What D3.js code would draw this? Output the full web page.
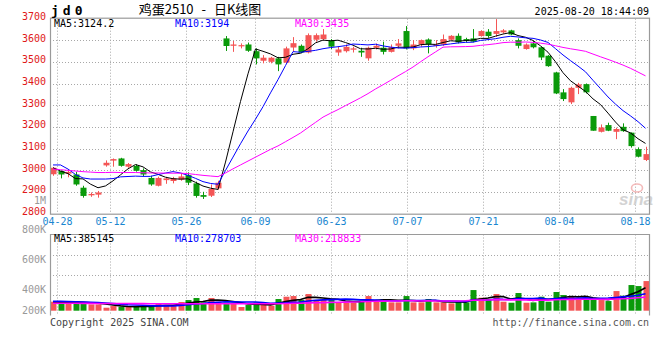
<!DOCTYPE html>
<html><head><meta charset="utf-8">
<script src="https://cdn.jsdelivr.net/npm/d3@7"></script>
<style>body{margin:0;background:#fff}svg{display:block}</style>
</head><body><svg id="c" width="660" height="360"></svg>
<script>
const dates = ["04-25","04-28","04-29","04-30","05-06","05-07","05-08","05-09","05-12","05-13","05-14","05-15","05-16","05-19","05-20","05-21","05-22","05-23","05-26","05-27","05-28","05-29","05-30","06-03","06-04","06-05","06-06","06-09","06-10","06-11","06-12","06-13","06-16","06-17","06-18","06-19","06-20","06-23","06-24","06-25","06-26","06-27","06-30","07-01","07-02","07-03","07-04","07-07","07-08","07-09","07-10","07-11","07-14","07-15","07-16","07-17","07-18","07-21","07-22","07-23","07-24","07-25","07-28","07-29","07-30","07-31","08-01","08-04","08-05","08-06","08-07","08-08","08-11","08-12","08-13","08-14","08-15","08-18","08-19","08-20"];
const openP = [2982,2997,2985,2981,2920,2885,2888,3023,3045,3055,3017,3021,3001,2965,2929,2955,2951,2957,2978,2940,2886,2883,2917,3609,3575,3575,3581,3550,3506,3501,3517,3497,3567,3575,3544,3603,3606,3600,3544,3550,3557,3552,3517,3566,3566,3547,3575,3643,3563,3581,3604,3574,3581,3603,3621,3606,3609,3620,3640,3630,3637,3646,3601,3560,3586,3568,3529,3452,3360,3314,3381,3398,3251,3178,3209,3178,3201,3174,3098,3048];
const highP = [3015,3000,3005,2993,2929,2898,2905,3046,3055,3058,3034,3028,3009,2975,2971,2970,2970,2985,2991,2948,2901,2935,2952,3620,3597,3586,3590,3563,3532,3524,3524,3571,3615,3581,3632,3632,3652,3606,3571,3581,3571,3566,3571,3586,3594,3581,3606,3666,3601,3604,3609,3601,3627,3624,3632,3612,3652,3647,3652,3698,3652,3649,3609,3586,3597,3571,3532,3455,3375,3386,3404,3401,3251,3212,3220,3197,3217,3175,3106,3109];
const lowP = [2975,2963,2968,2929,2874,2878,2874,3017,3017,3017,3012,2994,2972,2929,2926,2938,2940,2952,2932,2874,2868,2877,2911,3551,3547,3563,3547,3489,3494,3494,3458,3494,3550,3540,3540,3594,3601,3560,3529,3544,3544,3524,3506,3558,3535,3544,3563,3558,3555,3571,3540,3566,3575,3600,3586,3591,3591,3617,3612,3617,3632,3624,3563,3557,3563,3509,3478,3352,3320,3306,3352,3355,3183,3175,3181,3144,3178,3105,3060,3043];
const closeP = [3012,2981,2993,2935,2882,2891,2898,3035,3052,3021,3029,2998,2981,2935,2965,2963,2963,2972,2943,2882,2878,2914,2943,3574,3581,3578,3552,3517,3520,3520,3489,3563,3587,3544,3624,3624,3627,3571,3558,3570,3563,3544,3566,3575,3547,3569,3586,3563,3581,3601,3581,3581,3606,3621,3591,3597,3594,3643,3620,3643,3646,3627,3575,3581,3568,3521,3481,3355,3329,3381,3397,3360,3183,3198,3183,3191,3181,3112,3063,3075];
const volume = [151000,123000,123000,162000,140000,106000,106000,50000,78000,62000,62000,78000,78000,67000,129000,95000,95000,146000,179000,213000,140000,213000,151000,134000,123000,62000,95000,140000,106000,84000,196000,235000,246000,179000,280000,179000,179000,179000,140000,140000,140000,162000,246000,162000,196000,140000,140000,246000,140000,140000,196000,140000,140000,123000,162000,140000,347000,218000,196000,280000,151000,134000,297000,134000,140000,235000,151000,314000,263000,235000,196000,196000,196000,179000,162000,330000,252000,431000,414000,498000];
// moving-average values at the start of the window (before enough history exists)
const ma5Head = [3012,2997,2985,2962];
const ma10Head = [3025,3025,3006,2981,2965,2960,2960,2960,2962];
const ma30Head = [3006,3003,3000,2997,2994,2992,2990,2990,2991,2990,2990,2990,2989,2988,2988,2987,2987,2987,2985,2981,2977,2974,2971,2988,3007,3025,3043,3061,3079];
const vma5Head = [145000,142000,140000,141000];
const vma10Head = [160000,158000,155000,150000,145000,140000,135000,128000,120000];
const vma30Head = [125000,125000,124000,124000,123000,123000,122000,122000,121000,120000,120000,119000,119000,118000,118000,118000,117000,117000,117000,117000,116000,116000,116000,116000,116000,116000,116000,116000,116000];
const priceTicks = [2800,2900,3000,3100,3200,3300,3400,3500,3600,3700];
const volTicks = [200000,400000,600000,800000,1000000];
const dateTicks = ["04-28","05-12","05-26","06-09","06-23","07-07","07-21","08-04","08-18"];
const priceLegend = [["MA5",3124.2],["MA10",3194],["MA30",3435]];
const volLegend = [["MA5",385145],["MA10",278703],["MA30",218833]];
const title = "鸡蛋2510 - 日K线图";
const symbol = "jd0";
const stamp = "2025-08-20 18:44:09";

const RED="#f45656", GREEN="#0a9a0a", GRID="#a8a8a8", BORDER="#9a9a9a";
const MACOL=["#000000","#0000ff","#ff00ff"];
const MONO="'DejaVu Sans Mono', monospace";

const svg = d3.select("#c");
svg.append("rect").attr("width",660).attr("height",360).attr("fill","#fff");

const L=50, R=649, PT=18.7, PB=213.7, VT=234.5, VB=315.5;
const x = d3.scalePoint().domain(dates).range([53,645.5]);
const gridX = d3.scaleLinear().domain([1,77]).range([57.3,634.5]);
const y = d3.scaleLinear().domain([2800,3700]).range([PB,PT]);
const yv = d3.scaleLinear().domain([0,800000]).range([310.7,263.1]);
const yvLabel = d3.scaleLinear().domain(volTicks).range([314.3,293.3,262.7,233.3,203.7]);
const vGrid = d3.scaleLinear().domain([0,4]).range([VB,VT]);

function ma(arr, n, head){
  return arr.map((v,i)=> i<head.length ? head[i] : d3.mean(arr.slice(i-n+1,i+1)));
}
const idx = d3.range(dates.length);

// grid
const g = svg.append("g");
priceTicks.filter(t=>t>2800 && t<3700).forEach(t=>{
  g.append("line").attr("x1",L).attr("x2",R).attr("y1",Math.round(y(t))+0.5).attr("y2",Math.round(y(t))+0.5)
   .attr("stroke",GRID).attr("stroke-dasharray","1,2");
});
[1,2,3].forEach(k=>{
  g.append("line").attr("x1",L).attr("x2",R).attr("y1",Math.round(vGrid(k))+0.5).attr("y2",Math.round(vGrid(k))+0.5)
   .attr("stroke",GRID).attr("stroke-dasharray","1,2");
});
dateTicks.forEach(d=>{
  const gx = Math.round(gridX(dates.indexOf(d)))+0.5;
  g.append("line").attr("x1",gx).attr("x2",gx).attr("y1",PT).attr("y2",PB).attr("stroke",GRID).attr("stroke-dasharray","1,2");
  g.append("line").attr("x1",gx).attr("x2",gx).attr("y1",VT).attr("y2",VB).attr("stroke",GRID).attr("stroke-dasharray","1,2");
  svg.append("text").attr("x",gx).attr("y",225.3).attr("text-anchor","middle")
    .attr("font-family",MONO).attr("font-size",10).attr("fill","#1a86d0").text(d);
});

// clip paths
const defs = svg.append("defs");
defs.append("clipPath").attr("id","cp").append("rect").attr("x",L).attr("y",PT).attr("width",R-L).attr("height",PB-PT);
defs.append("clipPath").attr("id","cv").append("rect").attr("x",L).attr("y",VT).attr("width",R-L).attr("height",VB-VT);

// candles
const cg = svg.append("g").attr("clip-path","url(#cp)");
idx.forEach(i=>{
  const up = closeP[i] >= openP[i];
  const col = up ? RED : GREEN;
  const cx = Math.round(x(dates[i]));
  cg.append("line").attr("x1",cx+0.5).attr("x2",cx+0.5).attr("y1",y(highP[i])).attr("y2",y(lowP[i]))
    .attr("stroke",col).attr("stroke-width",1);
  const top = y(Math.max(openP[i],closeP[i])), bot = y(Math.min(openP[i],closeP[i]));
  cg.append("rect").attr("x",cx-2.5).attr("width",6).attr("y",top).attr("height",Math.max(1.2,bot-top)).attr("fill",col);
});

// watermark
const wm = svg.append("g").attr("opacity",0.9);
wm.append("ellipse").attr("cx",637).attr("cy",188).attr("rx",5.5).attr("ry",4).attr("fill","none").attr("stroke","#f3b3b3").attr("stroke-width",1.6);
wm.append("text").attr("x",619).attr("y",205).attr("font-family","'Liberation Sans', Arial, sans-serif")
  .attr("font-weight","bold").attr("font-style","italic").attr("font-size",17).attr("fill","#cfcfcf").text("sina");

// price MAs
const pm = [ma(closeP,5,ma5Head), ma(closeP,10,ma10Head), ma(closeP,30,ma30Head)];
const lineP = d3.line().x((d,i)=>x(dates[i])).y(d=>y(d));
pm.forEach((s,k)=>{
  cg.append("path").datum(s).attr("d",lineP).attr("fill","none").attr("stroke",MACOL[k]).attr("stroke-width",1);
});

// volume bars
const vg = svg.append("g").attr("clip-path","url(#cv)");
idx.forEach(i=>{
  const up = closeP[i] >= openP[i];
  const cx = Math.round(x(dates[i]));
  vg.append("rect").attr("x",cx-2.5).attr("width",6).attr("y",yv(volume[i])).attr("height",yv(0)-yv(volume[i]))
    .attr("fill", up?RED:GREEN);
});
const vm = [ma(volume,5,vma5Head), ma(volume,10,vma10Head), ma(volume,30,vma30Head)];
const lineV = d3.line().x((d,i)=>x(dates[i])).y(d=>yv(d));
vm.forEach((s,k)=>{
  vg.append("path").datum(s).attr("d",lineV).attr("fill","none").attr("stroke",MACOL[k]).attr("stroke-width",1.6);
});

// borders
svg.append("rect").attr("x",L+0.5).attr("y",PT-0.5).attr("width",R-L).attr("height",PB-PT+1)
  .attr("fill","none").attr("stroke",BORDER).attr("stroke-width",1.2);
svg.append("path").attr("d",`M${L+0.5},${VB}V${VT}H${R+0.5}V${VB}`)
  .attr("fill","none").attr("stroke",BORDER).attr("stroke-width",1.2);

// price labels
priceTicks.forEach(t=>{
  svg.append("text").attr("x",46).attr("y",y(t)+1.3).attr("text-anchor","end")
    .attr("font-family",MONO).attr("font-size",10).attr("fill","#e01818").text(t);
});
// volume labels
volTicks.forEach(t=>{
  svg.append("text").attr("x",46).attr("y",yvLabel(t)).attr("text-anchor","end")
    .attr("font-family",MONO).attr("font-size",10).attr("fill","#999").text(t>=1e6 ? (t/1e6)+"M" : (t/1000)+"K");
});

// legends
const legX = [54,175,295];
priceLegend.forEach((d,k)=>{
  svg.append("text").attr("x",legX[k]).attr("y",26.7).attr("font-family",MONO).attr("font-size",10)
    .attr("fill",MACOL[k]).text(d[0]+":"+d[1]);
});
volLegend.forEach((d,k)=>{
  svg.append("text").attr("x",legX[k]).attr("y",242.3).attr("font-family",MONO).attr("font-size",10)
    .attr("fill",MACOL[k]).text(d[0]+":"+d[1]);
});

// header
svg.append("text").attr("x",51).attr("y",15).attr("font-family",MONO).attr("font-weight","bold")
  .attr("font-size",13).attr("letter-spacing",4).attr("fill","#000").text(symbol);
svg.append("text").attr("x",200).attr("y",13.5).attr("text-anchor","middle")
  .attr("font-family","'Noto Sans CJK SC', sans-serif").attr("font-size",13).attr("word-spacing",5)
  .attr("fill","#000").text(title);
svg.append("text").attr("x",649).attr("y",15).attr("text-anchor","end").attr("font-family",MONO)
  .attr("font-size",10).attr("fill","#000").text(stamp);

// footer
svg.append("text").attr("x",50).attr("y",326).attr("font-family",MONO).attr("font-size",10).attr("fill","#444").text("Copyright 2025 SINA.COM");
svg.append("text").attr("x",649).attr("y",326).attr("text-anchor","end").attr("font-family",MONO).attr("font-size",10).attr("fill","#555").text("http://finance.sina.com.cn");
</script></body></html>
